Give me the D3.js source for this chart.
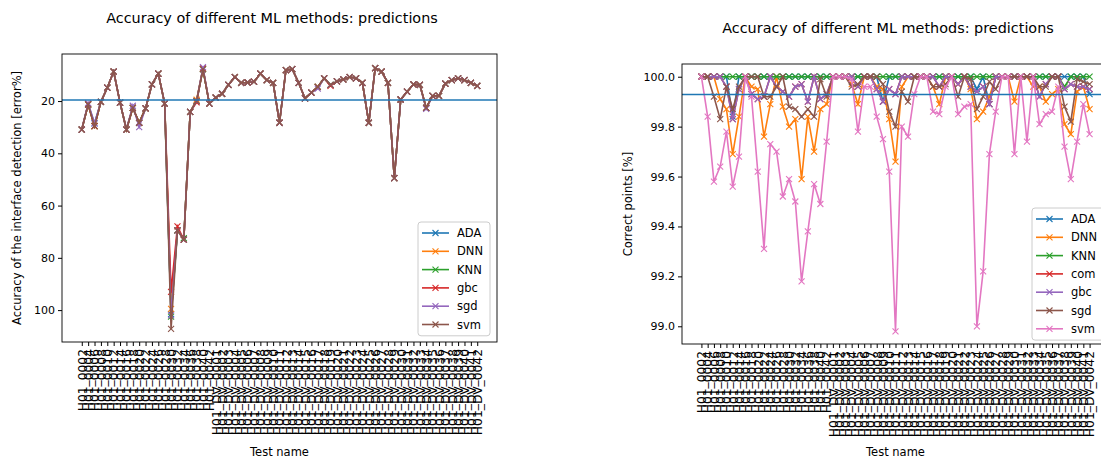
<!DOCTYPE html>
<html>
<head>
<meta charset="utf-8">
<script src="https://cdn.jsdelivr.net/npm/d3@7"></script>
<style>
  body { margin: 0; background: #fff; }
  text { font-family: "DejaVu Sans", sans-serif; fill: #000; }
</style>
</head>
<body>
<div id="chart"></div>
<script>
// test names (x tick labels)
const testNames = [
  'H01_0002','H01_0004','H01_0006','H01_0008','H01_0010','H01_0012','H01_0014',
  'H01_0016','H01_0018','H01_0020','H01_0022','H01_0024','H01_0026','H01_0028',
  'H01_0030','H01_0032','H01_0034','H01_0036','H01_0038','H01_0040','H01_0042',
  'H01_DV_0001','H01_DV_0002','H01_DV_0003','H01_DV_0004','H01_DV_0005','H01_DV_0006',
  'H01_DV_0007','H01_DV_0008','H01_DV_0009','H01_DV_0010','H01_DV_0011','H01_DV_0012',
  'H01_DV_0013','H01_DV_0014','H01_DV_0015','H01_DV_0016','H01_DV_0017','H01_DV_0018',
  'H01_DV_0019','H01_DV_0020','H01_DV_0021','H01_DV_0022','H01_DV_0023','H01_DV_0024',
  'H01_DV_0025','H01_DV_0026','H01_DV_0027','H01_DV_0028','H01_DV_0029','H01_DV_0030',
  'H01_DV_0031','H01_DV_0032','H01_DV_0033','H01_DV_0034','H01_DV_0035','H01_DV_0036',
  'H01_DV_0037','H01_DV_0038','H01_DV_0039','H01_DV_0040','H01_DV_0041','H01_DV_0042'
];

// left panel: interface detection error [error%]
const errADA = [30.9,21.3,28.5,20.3,14.9,8.7,20.6,30.9,22.6,28.3,22.8,13.6,9.5,21.0,101.5,69.5,73.0,24.1,20.0,7.8,21.0,18.7,17.2,13.8,10.8,13.0,12.9,12.6,9.5,12.0,13.0,28.3,8.2,7.8,13.0,19.0,16.8,14.6,11.3,13.8,12.5,11.7,10.8,11.3,13.0,28.3,7.4,8.7,13.0,49.5,19.4,16.4,13.6,13.8,22.6,18.0,18.0,13.3,12.0,11.3,12.0,13.0,14.2];
const errDNN = [30.9,21.3,29.6,20.3,14.9,8.7,20.6,30.9,22.6,28.3,22.8,13.6,9.5,21.0,99.5,69.5,73.0,24.1,19.5,7.8,21.0,18.7,17.2,13.8,10.8,13.0,12.9,12.6,9.5,12.0,13.0,28.3,8.2,7.8,13.0,19.0,16.8,14.6,11.3,13.8,12.5,11.7,10.8,11.3,13.0,28.3,7.4,8.7,13.0,49.5,19.4,16.4,13.6,13.8,22.6,18.0,18.0,13.3,12.0,11.3,12.0,13.0,14.2];
const errKNN = [30.9,21.3,29.6,20.3,14.9,8.7,20.6,30.9,22.6,28.3,22.8,13.6,9.5,21.0,102.5,69.5,72.5,24.1,20.0,7.8,21.0,18.7,17.2,13.8,10.8,13.0,12.9,12.6,9.5,12.0,13.0,28.3,8.2,7.8,13.0,19.0,16.8,14.6,11.3,13.8,12.5,11.7,10.8,11.3,13.0,28.3,7.4,8.7,13.0,49.5,19.4,16.4,13.6,13.8,22.6,18.0,18.0,13.3,12.0,11.3,12.0,13.0,14.2];
const errGBC = [30.9,21.3,29.6,20.3,14.9,8.7,20.6,30.9,22.6,28.3,22.8,13.6,9.5,21.0,93.0,68.0,73.0,24.1,20.5,7.5,21.0,18.7,17.2,13.8,10.8,13.0,12.9,12.6,9.5,12.0,13.0,28.3,8.2,7.8,13.0,19.0,16.8,14.6,11.3,14.2,12.5,11.7,10.8,11.3,13.0,28.3,7.4,8.7,13.0,49.5,19.4,16.4,13.6,13.8,22.6,18.0,18.0,13.3,12.0,11.3,12.0,13.0,14.2];
const errSGD = [30.9,20.8,28.5,20.3,14.9,8.7,20.6,30.9,21.8,30.0,22.8,13.6,9.5,21.0,102.0,69.5,73.0,24.1,20.0,7.0,21.0,18.7,17.2,13.8,10.8,13.0,12.9,12.6,9.5,12.0,13.0,28.3,8.2,7.8,13.0,19.0,16.8,15.2,11.3,13.8,12.5,11.7,10.8,11.3,13.0,28.3,7.4,8.7,13.0,49.5,19.4,16.4,13.6,13.8,23.0,18.0,18.0,13.3,12.0,11.3,12.0,13.0,14.2];
const errSVM = [30.9,21.3,29.6,20.3,14.9,8.7,20.6,30.9,22.6,28.3,22.8,13.6,9.5,21.0,107.2,69.5,73.0,24.1,20.0,7.8,21.0,18.7,17.2,13.8,10.8,13.0,12.9,12.6,9.5,12.0,13.0,28.3,8.2,7.8,13.0,19.0,16.8,14.6,11.3,13.8,12.5,11.7,10.8,11.3,13.0,28.3,7.4,8.7,13.0,49.5,19.4,16.4,13.6,13.8,22.6,18.0,18.0,13.3,12.0,11.3,12.0,13.0,14.2];
const errMean = 19.6;

// right panel: correct points [%]
const corADA = [100,100,100,100,100,99.84,100,100,100,100,100,100,100,100,100,100,100,100,100,100,100,100,100,100,100,100,100,100,100,99.90,100,100,100,100,100,100,100,100,100,100,100,100,100,100,99.95,100,99.89,100,100,100,100,100,100,100,100,100,100,100,100,100,100,100,99.93];
const corDNN = [100,100,100,99.91,99.87,99.69,99.84,100,99.96,99.95,99.76,99.89,100,99.88,99.80,99.83,99.59,99.84,99.70,99.87,99.89,100,100,100,99.97,99.89,100,100,99.96,99.95,99.83,99.66,99.96,100,100,100,100,99.96,99.89,100,100,99.97,100,99.95,99.83,99.86,99.92,100,100,100,99.90,100,100,99.96,99.96,99.90,99.93,99.95,99.81,99.77,99.94,99.96,99.87];
const corKNN = [100,100,100,100,100,100,100,100,100,100,100,100,100,100,100,100,100,100,100,100,100,100,100,100,100,100,100,100,100,100,100,100,100,100,100,100,100,100,100,100,100,100,100,100,100,100,100,100,100,100,100,100,100,100,100,100,100,100,99.96,100,100,100,100];
const corCOM = [100,100,100,100,99.96,99.83,99.95,100,99.93,99.91,99.92,100,99.96,99.94,99.92,99.96,99.97,99.90,100,99.91,99.93,100,100,100,100,99.96,100,100,99.95,99.90,99.95,99.93,100,100,100,100,100,100,99.96,100,100,99.97,100,99.96,99.94,99.96,99.89,100,100,100,100,100,100,100,99.92,99.97,100,100,99.95,99.97,99.96,99.96,99.95];
const corGBC = [100,100,100,100,99.96,99.83,99.95,100,99.93,99.91,99.92,100,99.96,99.94,99.92,99.96,99.97,99.90,100,99.91,99.93,100,100,100,100,99.96,100,100,99.95,99.90,99.95,99.93,100,100,100,100,100,100,99.96,100,100,99.97,100,99.96,99.94,99.96,99.89,100,100,100,100,100,100,100,99.92,99.97,100,100,99.95,99.97,99.96,99.96,99.95];
const corSGD = [100,100,99.92,99.83,99.96,99.87,99.96,100,100,100,99.92,99.92,99.96,100,99.88,99.87,99.84,99.87,99.84,99.99,99.92,100,100,100,99.96,99.97,100,100,100,99.97,99.86,99.80,99.94,99.90,100,100,100,99.96,99.96,99.97,100,99.92,100,99.99,99.87,99.92,99.98,99.95,100,100,100,100,100,100,99.96,99.96,100,100,99.88,99.82,99.99,99.98,99.97];
const corSVM = [100,99.84,99.58,99.64,99.78,99.56,99.68,100,99.92,99.62,99.31,99.73,99.70,99.52,99.59,99.50,99.18,99.38,99.57,99.49,99.74,100,100,100,99.99,99.78,99.96,99.96,99.84,99.75,99.62,98.98,99.80,99.76,99.93,100,100,99.86,99.85,99.96,100,99.85,99.88,99.89,99.00,99.22,99.69,99.86,100,100,99.69,100,99.74,100,99.81,99.85,99.86,99.96,99.72,99.59,99.74,99.89,99.77];
const corMean = 99.929;

const tab = ['#1f77b4', '#ff7f0e', '#2ca02c', '#d62728', '#9467bd', '#8c564b', '#e377c2'];

let svg = d3.select('#chart')
  .append('svg')
  .attr('width', 1101)
  .attr('height', 460);

function drawPanel(p) {
  let x = d3.scalePoint()
    .domain(testNames)
    .range([p.left, p.right])
    .padding(3.1);

  let all = p.series.flatMap((s) => s.values);
  let lo = d3.min(all), hi = d3.max(all);
  let pad = (hi - lo) * 0.05;
  let y = d3.scaleLinear()
    .domain(p.invert ? [lo - pad, hi + pad] : [hi + pad, lo - pad])
    .range([p.top, p.bottom]);

  let g = svg.append('g');

  // y axis
  let yAxis = g.append('g')
    .attr('transform', `translate(${p.left},0)`)
    .call(d3.axisLeft(y).ticks(6).tickSize(4).tickPadding(3).tickFormat(d3.format(p.yFormat)));
  yAxis.select('.domain').remove();
  yAxis.selectAll('text').style('font-size', '11px');

  // x axis
  let xAxis = g.append('g')
    .attr('transform', `translate(0,${p.bottom})`)
    .call(d3.axisBottom(x).tickSize(4));
  xAxis.select('.domain').remove();
  xAxis.selectAll('text')
    .attr('transform', 'rotate(-90)')
    .attr('x', -7)
    .attr('y', 0)
    .attr('dy', '0.35em')
    .style('text-anchor', 'end')
    .style('font-size', '12.3px');

  // series
  let line = d3.line()
    .x((d, i) => x(testNames[i]))
    .y((d) => y(d));

  p.series.forEach((s) => {
    g.append('path')
      .attr('d', line(s.values))
      .attr('fill', 'none')
      .attr('stroke', s.color)
      .attr('stroke-width', 1.6);
    g.selectAll(null)
      .data(s.values)
      .enter()
      .append('path')
      .attr('transform', (d, i) => `translate(${x(testNames[i])},${y(d)})`)
      .attr('d', 'M-3,-3L3,3M-3,3L3,-3')
      .attr('stroke', s.color)
      .attr('stroke-width', 1.1)
      .attr('fill', 'none');
  });

  // mean line
  g.append('line')
    .attr('x1', p.left).attr('x2', p.right)
    .attr('y1', y(p.mean)).attr('y2', y(p.mean))
    .attr('stroke', tab[0])
    .attr('stroke-width', 1.6);

  // frame
  g.append('rect')
    .attr('x', p.left).attr('y', p.top)
    .attr('width', p.right - p.left).attr('height', p.bottom - p.top)
    .attr('fill', 'none')
    .attr('stroke', '#000')
    .attr('stroke-width', 0.9);

  // title and labels
  let cx = (p.left + p.right) / 2;
  g.append('text')
    .attr('x', cx - 7.5).attr('y', p.top - 31)
    .attr('text-anchor', 'middle')
    .style('font-size', '14.4px')
    .text('Accuracy of different ML methods: predictions');
  g.append('text')
    .attr('x', cx).attr('y', 456)
    .attr('text-anchor', 'middle')
    .style('font-size', '11.5px')
    .text('Test name');
  g.append('text')
    .attr('transform', `translate(${p.yLabelX},${(p.top + p.bottom) / 2}) rotate(-90)`)
    .attr('text-anchor', 'middle')
    .style('font-size', '11.5px')
    .text(p.yLabel);

  // legend
  let lg = g.append('g').attr('transform', `translate(${p.legX},${p.legY})`);
  lg.append('rect')
    .attr('width', p.legW).attr('height', p.series.length * 18.3 + 4)
    .attr('rx', 3)
    .attr('fill', '#fff').attr('fill-opacity', 0.8)
    .attr('stroke', '#cccccc');
  p.series.forEach((s, k) => {
    let ry = 11 + k * 18.3;
    lg.append('line')
      .attr('x1', 4).attr('x2', 31).attr('y1', ry).attr('y2', ry)
      .attr('stroke', s.color).attr('stroke-width', 1.6);
    lg.append('path')
      .attr('transform', `translate(17.5,${ry})`)
      .attr('d', 'M-3,-3L3,3M-3,3L3,-3')
      .attr('stroke', s.color).attr('stroke-width', 1.1);
    lg.append('text')
      .attr('x', 39).attr('y', ry).attr('dy', '0.35em')
      .style('font-size', '11.5px')
      .text(s.name);
  });
}

drawPanel({
  left: 62, right: 497, top: 54, bottom: 342,
  invert: true, yFormat: 'd', mean: errMean,
  yLabel: 'Accuracy of the interface detection [error%]', yLabelX: 21,
  legX: 418, legY: 222, legW: 72,
  series: [
    { name: 'ADA', values: errADA, color: tab[0] },
    { name: 'DNN', values: errDNN, color: tab[1] },
    { name: 'KNN', values: errKNN, color: tab[2] },
    { name: 'gbc', values: errGBC, color: tab[3] },
    { name: 'sgd', values: errSGD, color: tab[4] },
    { name: 'svm', values: errSVM, color: tab[5] }
  ]
});

drawPanel({
  left: 682, right: 1109, top: 64, bottom: 344,
  invert: false, yFormat: '.1f', mean: corMean,
  yLabel: 'Correct points [%]', yLabelX: 632,
  legX: 1032, legY: 208, legW: 90,
  series: [
    { name: 'ADA', values: corADA, color: tab[0] },
    { name: 'DNN', values: corDNN, color: tab[1] },
    { name: 'KNN', values: corKNN, color: tab[2] },
    { name: 'com', values: corCOM, color: tab[3] },
    { name: 'gbc', values: corGBC, color: tab[4] },
    { name: 'sgd', values: corSGD, color: tab[5] },
    { name: 'svm', values: corSVM, color: tab[6] }
  ]
});
</script>
</body>
</html>
